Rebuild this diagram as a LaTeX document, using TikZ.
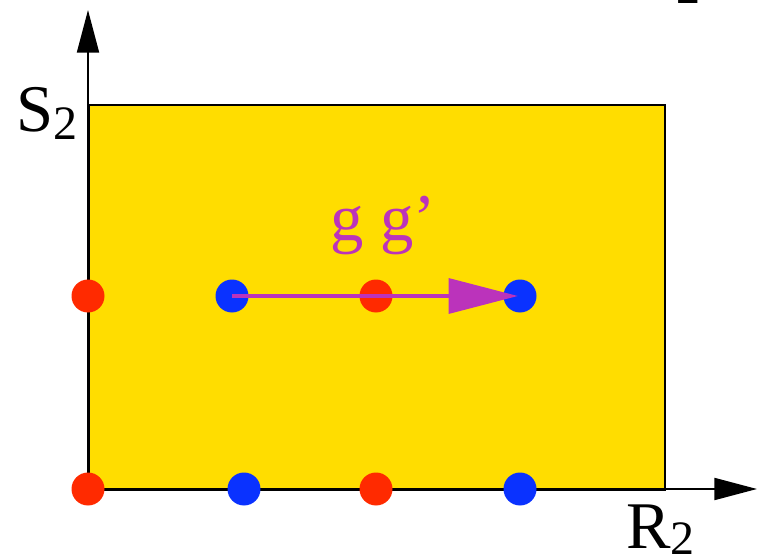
\documentclass[tikz,border=0pt]{standalone}
\usepackage{fontspec}
\setmainfont{Liberation Serif}
\usetikzlibrary{arrows.meta}
\definecolor{boxyellow}{HTML}{FFDD00}
\definecolor{dotred}{HTML}{FF2A00}
\definecolor{dotblue}{HTML}{0A32FF}
\definecolor{arrowmag}{HTML}{BB33BB}
\newcommand{\bigtxt}{\fontsize{50}{56}\selectfont}
\newcommand{\subtxt}{\fontsize{36}{40}\selectfont}
\begin{document}
\begin{tikzpicture}[x=0.75pt,y=-0.75pt,
  reddot/.style={circle,fill=dotred,minimum size=24.75pt,inner sep=0pt},
  bluedot/.style={circle,fill=dotblue,minimum size=24.75pt,inner sep=0pt},
  axis/.style={line width=1.5pt,-{Triangle[length=32pt,width=16.5pt]}},
  lbl/.style={inner sep=0pt,font=\bigtxt}]
\useasboundingbox (0,0) rectangle (758,560);
\node[draw,line width=1.6pt,fill=boxyellow,minimum width=432pt,minimum height=288.75pt,inner sep=0pt,anchor=north west] (box) at (88,104) {};
\coordinate (o) at (88,489);
\coordinate (ytip) at (88,10);
\coordinate (xtip) at (757,489);
\draw[axis] (o) -- (ytip);
\draw[axis] (o) -- (xtip);
\node[reddot] (a1) at (88,296) {};
\node[bluedot] (a2) at (232,296) {};
\node[reddot] (a3) at (376,296) {};
\node[bluedot] (a4) at (520,296) {};
\node[reddot] (b1) at (88,489) {};
\node[bluedot] (b2) at (244,489) {};
\node[reddot] (b3) at (376,489) {};
\node[bluedot] (b4) at (520,489) {};
\draw[arrowmag,line width=3.3pt,-{Triangle[length=52pt,width=26pt]},shorten >=1.5pt] (a2.center) -- (a4.center);
\node[lbl,text=arrowmag,anchor=base] (gg) at (383,240) {g g’};
\node[lbl,anchor=base west] (s2) at (16,132) {S\raisebox{-6pt}{\subtxt 2}};
\node[lbl,anchor=base west] (r2) at (626,548) {R\raisebox{-5pt}{\subtxt 2}};
\node[lbl,anchor=base west] (top2) at (676,4) {\subtxt 2};
\end{tikzpicture}
\end{document}
